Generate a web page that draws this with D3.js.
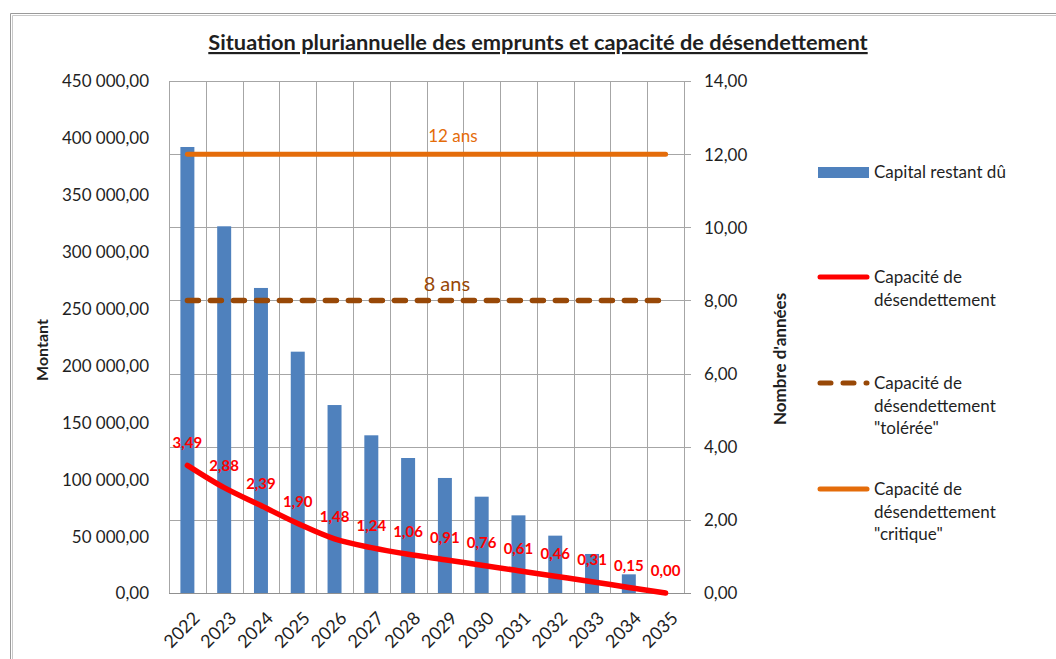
<!doctype html>
<html>
<head>
<meta charset="utf-8">
<script src="https://d3js.org/d3.v7.min.js"></script>
<style>
  body { margin: 0; background: #fff; }
  svg text { font-family: Lato, "Open Sans", sans-serif; fill: #1f1f1f; }
</style>
</head>
<body>
<script>
// values
var years = ["2022","2023","2024","2025","2026","2027","2028","2029","2030","2031","2032","2033","2034","2035"];
var capital = [392000, 322300, 268100, 212100, 165200, 138600, 118650, 101100, 84650, 68250, 50400, 34300, 16400, 0];
var capacite = [3.49, 2.88, 2.39, 1.90, 1.48, 1.24, 1.06, 0.91, 0.76, 0.61, 0.46, 0.31, 0.15, 0.00];
var toleree = [8, 8, 8, 8, 8, 8, 8, 8, 8, 8, 8, 8, 8, 8];
var critique = [12, 12, 12, 12, 12, 12, 12, 12, 12, 12, 12, 12, 12, 12];
var leftTicks = [0, 50000, 100000, 150000, 200000, 250000, 300000, 350000, 400000, 450000];
var rightTicks = [0, 2, 4, 6, 8, 10, 12, 14];

var W = 1056, H = 659;
var plot = {left: 169, right: 684, top: 81, bottom: 593};

var svg = d3.select("body").append("svg")
    .attr("width", W)
    .attr("height", H);

// outer frame (double grey line)
svg.append("path").attr("d", "M10.5,659 V13.5 H1056").attr("fill", "none").attr("stroke", "#9a9a9a").attr("stroke-width", 1);
svg.append("path").attr("d", "M12.5,659 V15.5 H1056").attr("fill", "none").attr("stroke", "#c8c8c8").attr("stroke-width", 1);

var x = d3.scaleBand().domain(years).range([plot.left, plot.right]).padding(0);
var yL = d3.scaleLinear().domain([0, 450000]).range([plot.bottom, plot.top]);
var yR = d3.scaleLinear().domain([0, 14]).range([plot.bottom, plot.top]);

var fmtL = function(d) { return d3.format(",.2f")(d).replace(/,/g, " ").replace(".", ","); };
var fmtR = function(d) { return d3.format(".2f")(d).replace(".", ","); };

// gridlines
var grid = svg.append("g").attr("stroke", "#a6a6a6").attr("stroke-width", 1);
grid.selectAll(".h").data(rightTicks).enter().append("line")
    .attr("x1", plot.left).attr("x2", plot.right + 7)
    .attr("y1", function(d) { return Math.round(yR(d)) + 0.5; })
    .attr("y2", function(d) { return Math.round(yR(d)) + 0.5; });
grid.selectAll(".v").data(years.concat(["end"])).enter().append("line")
    .attr("x1", function(d, i) { return Math.round(plot.left + i * x.bandwidth()) + 0.5; })
    .attr("x2", function(d, i) { return Math.round(plot.left + i * x.bandwidth()) + 0.5; })
    .attr("y1", plot.top).attr("y2", plot.bottom);

// bars
var bw = x.bandwidth() * 0.38;
svg.append("g").selectAll("rect").data(capital).enter().append("rect")
    .attr("x", function(d, i) { return x(years[i]) + x.bandwidth() / 2 - bw / 2; })
    .attr("y", function(d) { return yL(d); })
    .attr("width", bw)
    .attr("height", function(d) { return plot.bottom - yL(d); })
    .attr("fill", "#4f81bd");

// axis line at bottom
svg.append("line").attr("x1", plot.left).attr("x2", plot.right + 7)
    .attr("y1", plot.bottom + 0.5).attr("y2", plot.bottom + 0.5)
    .attr("stroke", "#909090");

// left axis
var axL = svg.append("g").attr("transform", "translate(" + (plot.left - 17) + ",0)")
    .call(d3.axisLeft(yL).tickValues(leftTicks).tickFormat(fmtL).tickSize(0));
axL.select(".domain").remove();
axL.selectAll("text").attr("font-size", 17).attr("fill", "#1f1f1f").attr("dy", "0.35em");

// right axis
var axR = svg.append("g").attr("transform", "translate(" + (plot.right + 20) + ",0)")
    .call(d3.axisRight(yR).tickValues(rightTicks).tickFormat(fmtR).tickSize(0));
axR.select(".domain").remove();
axR.selectAll("text").attr("font-size", 17).attr("fill", "#1f1f1f").attr("x", 0).attr("dy", "0.35em");

// bottom axis labels, rotated
var axB = svg.append("g").attr("transform", "translate(0," + plot.bottom + ")")
    .call(d3.axisBottom(x).tickSize(0));
axB.select(".domain").remove();
axB.selectAll("text")
    .attr("font-size", 18).attr("fill", "#1f1f1f")
    .attr("text-anchor", "end")
    .attr("x", 0).attr("y", 0).attr("dy", "0.35em")
    .attr("transform", "translate(9,22) rotate(-45)");

// reference lines
var line = function(scale) {
  return d3.line()
    .x(function(d, i) { return x(years[i]) + x.bandwidth() / 2; })
    .y(function(d) { return scale(d); });
};
svg.append("path").attr("d", line(yR)(critique))
    .attr("fill", "none").attr("stroke", "#e46c0a").attr("stroke-width", 5).attr("stroke-linecap", "round");
svg.append("path").attr("d", line(yR)(toleree))
    .attr("fill", "none").attr("stroke", "#984807").attr("stroke-width", 5.5)
    .attr("stroke-linecap", "round").attr("stroke-dasharray", "11,12");

// capacite line
svg.append("path").attr("d", line(yR).curve(d3.curveCatmullRom.alpha(0.5))(capacite))
    .attr("fill", "none").attr("stroke", "#ff0000").attr("stroke-width", 5.5).attr("stroke-linecap", "round");

// data labels
svg.append("g").selectAll("text").data(capacite).enter().append("text")
    .attr("x", function(d, i) { return x(years[i]) + x.bandwidth() / 2; })
    .attr("y", function(d) { return yR(d) - 17; })
    .attr("text-anchor", "middle")
    .attr("font-size", 15).attr("font-weight", "bold")
    .style("fill", "#ff0000")
    .text(fmtR);

// labels on reference lines (at 2029)
svg.append("text").attr("x", x("2029") + x.bandwidth() / 2 + 8).attr("y", yR(critique[7]) - 12)
    .attr("text-anchor", "middle").attr("font-size", 17).style("fill", "#e46c0a").text("12 ans");
svg.append("text").attr("x", x("2029") + x.bandwidth() / 2 + 2).attr("y", yR(toleree[7]) - 9)
    .attr("text-anchor", "middle").attr("font-size", 20).style("fill", "#984807").text("8 ans");

// title
svg.append("text").attr("x", 538).attr("y", 50)
    .attr("text-anchor", "middle").attr("font-size", 21.8).attr("font-weight", "bold")
    .style("text-decoration", "underline")
    .text("Situation pluriannuelle des emprunts et capacité de désendettement");

// axis titles
svg.append("text").attr("transform", "translate(48,350) rotate(-90)")
    .attr("text-anchor", "middle").attr("font-size", 16).attr("font-weight", "bold").text("Montant");
svg.append("text").attr("transform", "translate(786,359) rotate(-90)")
    .attr("text-anchor", "middle").attr("font-size", 17).attr("font-weight", "bold").text("Nombre d'années");

// legend
var legend = [
  {type: "bar", color: "#4f81bd", y: 172, lines: ["Capital restant dû"]},
  {type: "line", color: "#ff0000", y: 277, lines: ["Capacité de", "désendettement"]},
  {type: "dash", color: "#984807", y: 383, lines: ["Capacité de", "désendettement", "\"tolérée\""]},
  {type: "line", color: "#e46c0a", y: 489, lines: ["Capacité de", "désendettement", "\"critique\""]}
];
var lg = svg.append("g").selectAll("g").data(legend).enter().append("g");
lg.each(function(d) {
  var g = d3.select(this);
  if (d.type === "bar") {
    g.append("rect").attr("x", 818).attr("y", d.y - 5).attr("width", 51).attr("height", 11).attr("fill", d.color);
  } else {
    g.append("line").attr("x1", 820).attr("x2", 867).attr("y1", d.y).attr("y2", d.y)
      .attr("stroke", d.color).attr("stroke-width", 5).attr("stroke-linecap", "round")
      .attr("stroke-dasharray", d.type === "dash" ? "11,12" : null);
  }
  g.selectAll("text").data(d.lines).enter().append("text")
    .attr("x", 874).attr("y", function(t, i) { return d.y + i * 22.7; })
    .attr("dy", "0.35em").attr("font-size", 17).text(function(t) { return t; });
});
</script>
</body>
</html>
